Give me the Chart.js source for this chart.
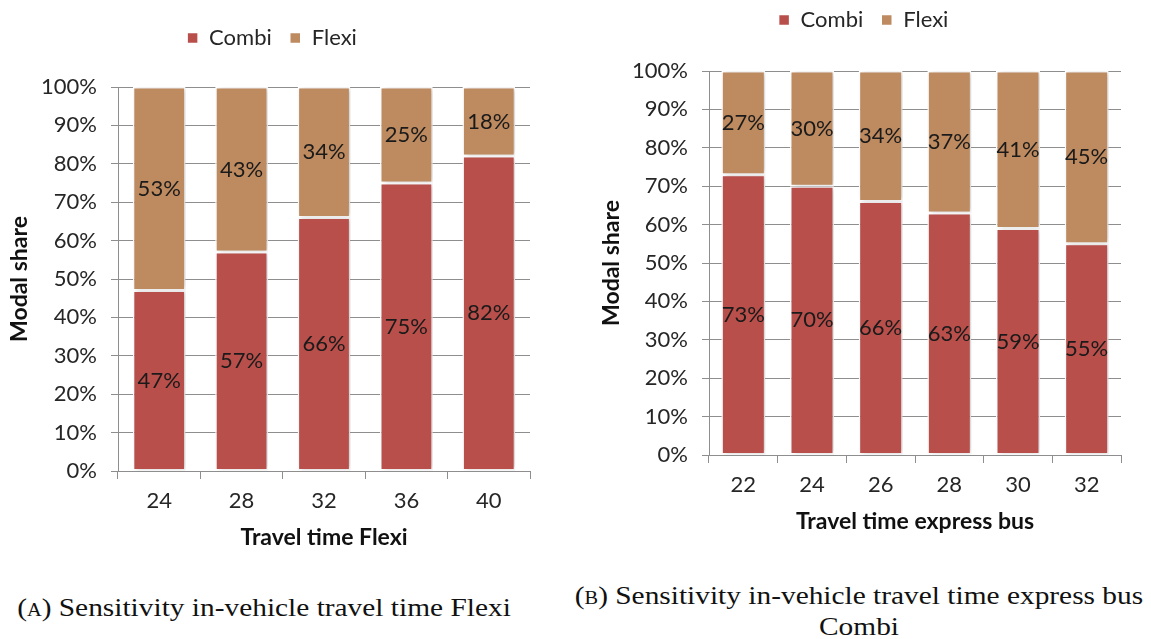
<!DOCTYPE html>
<html>
<head>
<meta charset="utf-8">
<script src="https://cdn.jsdelivr.net/npm/chart.js@4.4.1/dist/chart.umd.min.js"></script>
<style>
  html, body { margin: 0; padding: 0; background: #fff; }
  body { width: 1151px; height: 639px; position: relative; overflow: hidden; }
  .panel { position: absolute; }
  #wrapA { left: 0; top: 0; width: 560px; height: 560px; }
  #wrapB { left: 580px; top: -18px; width: 571px; height: 562px; }
  .caption {
    position: absolute; font-family: "Liberation Serif", "DejaVu Serif", serif;
    font-size: 26px; color: #111; text-align: center; white-space: nowrap; line-height: 31px;
    transform: scaleX(1.13); transform-origin: center top;
  }
  .sc { font-variant: small-caps; }
</style>
</head>
<body>
<div class="panel" id="wrapA"><canvas id="chartA"></canvas></div>
<div class="panel" id="wrapB"><canvas id="chartB"></canvas></div>
<div class="caption" id="capA" style="left:14px; width:500px; top:592px;"><span class="sc">(a)</span> Sensitivity in-vehicle travel time Flexi</div>
<div class="caption" id="capB" style="left:559px; width:600px; top:580px;"><span class="sc">(b)</span> Sensitivity in-vehicle travel time express bus<br>Combi</div>
<script>
// Panel A: travel time of Flexi
const flexiTimes = ['24', '28', '32', '36', '40'];
const combiShareA = [47, 57, 66, 75, 82];
const flexiShareA = [53, 43, 34, 25, 18];

// Panel B: travel time of the express bus (Combi)
const busTimes = ['22', '24', '26', '28', '30', '32'];
const combiShareB = [73, 70, 66, 63, 59, 55];
const flexiShareB = [27, 30, 34, 37, 41, 45];

const seriesNames = ['Combi', 'Flexi'];
const COMBI = '#B84F4B';
const FLEXI = '#BE8A5F';
const GRID = '#8E8E8E';
const TEXT = '#262626';
const FONT = 'Lato, "Open Sans", sans-serif';

// Soft drop shadow under the bar segments
const barShadow = {
  id: 'barShadow',
  beforeDatasetsDraw(chart) {
    const ctx = chart.ctx;
    ctx.save();
    ctx.shadowColor = 'rgba(0,0,0,0.22)';
    ctx.shadowBlur = 5;
    ctx.shadowOffsetX = 2;
    ctx.shadowOffsetY = 0;
  },
  afterDatasetsDraw(chart) {
    chart.ctx.restore();
  }
};

// Percentage labels centred inside each stacked segment
const segmentLabels = {
  id: 'segmentLabels',
  afterDraw(chart) {
    const ctx = chart.ctx;
    ctx.save();
    ctx.font = '22px ' + FONT;
    ctx.fillStyle = '#1a1a1a';
    ctx.textAlign = 'center';
    ctx.textBaseline = 'middle';
    chart.data.datasets.forEach((ds, di) => {
      const meta = chart.getDatasetMeta(di);
      meta.data.forEach((bar, i) => {
        const y = (bar.y + bar.base) / 2;
        ctx.fillText(ds.data[i] + '%', bar.x, y);
      });
    });
    ctx.restore();
  }
};

// Reserve a fixed block for the legend so the plot area starts lower,
// and nudge the legend row slightly to the right
function legendBlock(height, shiftX) {
  return {
    id: 'legendBlock',
    beforeInit(chart) {
      const fit = chart.legend.fit;
      chart.legend.fit = function () {
        fit.call(this);
        this.height = height;
      };
    },
    afterLayout(chart) {
      chart.legend.left += shiftX;
      chart.legend.right += shiftX;
    }
  };
}

function buildChart(canvasId, labels, combi, flexi, xTitle, yWidth, padLeft, legendHeight) {
  return new Chart(document.getElementById(canvasId), {
    type: 'bar',
    data: {
      labels: labels,
      datasets: [
        { label: seriesNames[0], data: combi, backgroundColor: COMBI, borderColor: '#ffffff', borderWidth: 1.5, borderSkipped: false },
        { label: seriesNames[1], data: flexi, backgroundColor: FLEXI, borderColor: '#ffffff', borderWidth: 1.5, borderSkipped: false }
      ]
    },
    options: {
      responsive: true,
      maintainAspectRatio: false,
      animation: false,
      layout: { padding: { left: padLeft, right: 30, top: 9, bottom: 0 } },
      datasets: { bar: { categoryPercentage: 1, barPercentage: 0.64 } },
      plugins: {
        legend: {
          position: 'top',
          align: 'center',
          labels: {
            boxWidth: 11, boxHeight: 11, padding: 18, color: TEXT,
            font: { family: FONT, size: 22 }
          }
        },
        tooltip: { enabled: false }
      },
      scales: {
        x: {
          stacked: true,
          grid: { display: true, drawOnChartArea: false, offset: true, color: GRID, tickLength: 8 },
          border: { display: true, color: GRID, width: 1 },
          ticks: { color: TEXT, font: { family: FONT, size: 22 }, padding: 9 },
          title: {
            display: true, text: xTitle, color: '#111',
            font: { family: FONT, size: 23, weight: 'bold' },
            padding: { top: 0, bottom: 9 }
          },
          afterFit(s) { s.height = 89; }
        },
        y: {
          stacked: true,
          min: 0, max: 100,
          grid: { color: GRID, tickLength: 7, lineWidth: 1 },
          border: { display: true, color: GRID, width: 1 },
          ticks: {
            stepSize: 10, color: TEXT, padding: 14,
            font: { family: FONT, size: 22 },
            callback: v => v + '%'
          },
          title: {
            display: true, text: 'Modal share', color: '#111',
            font: { family: FONT, size: 23, weight: 'bold' },
            padding: { top: 6, bottom: 0 }
          },
          afterFit(s) { s.width = yWidth; }
        }
      }
    },
    plugins: [legendBlock(legendHeight, 7), barShadow, segmentLabels]
  });
}

buildChart('chartA', flexiTimes, combiShareA, flexiShareA, 'Travel time Flexi', 118, 0, 78);
buildChart('chartB', busTimes, combiShareB, flexiShareB, 'Travel time express bus', 117, 12, 80);
</script>
</body>
</html>
